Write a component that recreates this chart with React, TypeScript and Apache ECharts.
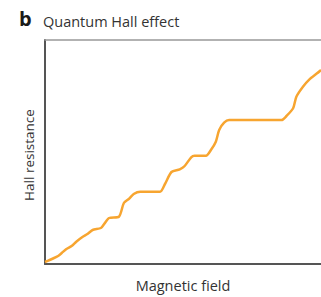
import React, { useEffect, useRef } from "react";
import * as echarts from "echarts";

const fieldValues = [0, 3.3, 7, 13.3, 17, 21.7, 27, 31.7, 38.3, 43, 48.3, 56.7, 60, 65, 75, 80, 85, 90, 96.7, 116.7, 121.7, 128.3, 136.7, 141.7, 148.3, 151.7, 163.3, 168.3, 173.3, 176.7, 181.7, 186.7, 240, 245, 251.7, 255, 261.7, 268.3, 276, 280];
const resistanceValues = [2, 3.3, 5, 8, 11, 15, 18, 22.3, 27.3, 30, 34, 36, 40, 46, 47.3, 61, 65, 70, 72.3, 72.3, 80, 92, 94.7, 98, 106.7, 108.3, 108.3, 114, 122.3, 134, 141.3, 144, 144, 148, 155.7, 167.3, 177.3, 184.7, 190.7, 194];

export default function App() {
  const ref = useRef<HTMLDivElement>(null);
  useEffect(() => {
    if (!ref.current) return;
    const chart = echarts.init(ref.current, null, { renderer: "svg" });
    const font = "'Open Sans', 'Noto Sans', sans-serif";
    chart.setOption({
      animation: false,
      backgroundColor: "#ffffff",
      grid: { left: 45, right: -4, top: 40, bottom: 33 },
      xAxis: [
        {
          type: "value",
          min: 0,
          max: 280,
          axisLine: { show: true, lineStyle: { color: "#555555", width: 2 } },
          axisTick: { show: false },
          axisLabel: { show: false },
          splitLine: { show: false },
        },
        {
          type: "value",
          position: "top",
          min: 0,
          max: 280,
          axisLine: { show: true, lineStyle: { color: "#999999", width: 1.5 } },
          axisTick: { show: false },
          axisLabel: { show: false },
          splitLine: { show: false },
        },
      ],
      yAxis: {
        type: "value",
        min: 0,
        max: 224,
        axisLine: { show: true, onZero: false, lineStyle: { color: "#555555", width: 2 } },
        axisTick: { show: false },
        axisLabel: { show: false },
        splitLine: { show: false },
      },
      graphic: [
        { type: "text", x: 19, y: 18, style: { text: "b", font: `bold 20px ${font}`, fill: "#1a1a1a", verticalAlign: "middle" } },
        { type: "text", x: 43, y: 21, style: { text: "Quantum Hall effect", font: `14.5px ${font}`, fill: "#333333", verticalAlign: "middle" } },
        {
          type: "text",
          x: 29,
          y: 155,
          rotation: Math.PI / 2,
          style: { text: "Hall resistance", font: `13.5px ${font}`, fill: "#333333", align: "center", verticalAlign: "middle" },
        },
        {
          type: "text",
          x: 183,
          y: 285,
          style: { text: "Magnetic field", font: `14.5px ${font}`, fill: "#333333", align: "center", verticalAlign: "middle" },
        },
      ],
      series: [
        {
          type: "line",
          xAxisIndex: 0,
          data: fieldValues.map((x, i) => [x, resistanceValues[i]]),
          showSymbol: false,
          smooth: 0.25,
          lineStyle: { color: "#f7a530", width: 2.5 },
          clip: true,
        },
      ],
    });
    return () => chart.dispose();
  }, []);
  return <div ref={ref} style={{ width: 321, height: 297, position: "absolute", left: 0, top: 0 }} />;
}
